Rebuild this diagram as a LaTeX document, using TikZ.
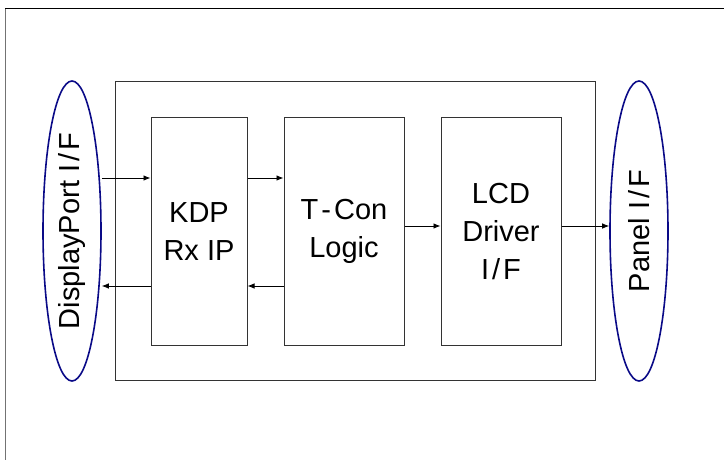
\documentclass[tikz,border=0pt]{standalone}
\usepackage{fontspec}
\setmainfont{Liberation Sans}
\usepackage{tikz}
\usetikzlibrary{positioning}
\usetikzlibrary{shapes.geometric}
\usetikzlibrary{arrows.meta}
\definecolor{portblue}{RGB}{10,10,135}
% spaced slash and dash, as in the block labels
\newcommand{\sep}[1]{\kern3pt#1\kern3pt}

\begin{document}
\begin{tikzpicture}[x=1pt,y=-1pt,  node distance=36pt,  block/.style={    draw=black!80,    line width=1pt,    rectangle,    minimum width=120pt,    minimum height=228pt,    align=center,    font=\fontsize{29}{38}\selectfont  },  port/.style={    draw=portblue,    line width=1.6pt,    ellipse,    rotate=90,    inner sep=0pt,    minimum width=300pt,    minimum height=58pt,    font=\fontsize{29}{38}\selectfont  },  arrow/.style={    -{Latex[length=7pt,width=5.5pt]},    line width=0.8pt  }]
		\useasboundingbox (0,0) rectangle (724,460);
		% Frame
		\draw[black!55, line width=1pt] (5,460) -- (5,9);
		\draw[line width=1pt] (5,9) -- (724,9);
		% Nodes
		\node[block, minimum width=480pt, minimum height=299pt] (chip) at (355,231) {};
		\node[block, minimum width=96pt] (kdp) at (199,231.5) {KDP\\Rx IP};
		\node[block, right=of kdp] (tcon) {T\sep{-}Con\\Logic};
		\node[block, right=of tcon] (lcd) {LCD\\Driver\\I\sep{/}F};
		\node[port] (dp) at (72,231) {DisplayPort I\sep{/}F};
		\node[port] (panel) at (639,231) {Panel I\sep{/}F};
		% Levels
		\coordinate (upper) at (0,178);
		\coordinate (lower) at (0,286);
		\coordinate (mid) at (0,226);
		% Arrows
		\draw[arrow] (dp.south |- upper) -- (kdp.west |- upper);
		\draw[arrow] (kdp.east |- upper) -- (tcon.west |- upper);
		\draw[arrow] (kdp.west |- lower) -- (dp.south |- lower);
		\draw[arrow] (tcon.west |- lower) -- (kdp.east |- lower);
		\draw[arrow] (tcon.east |- mid) -- (lcd.west |- mid);
		\draw[arrow] (lcd.east |- mid) -- (panel.north |- mid);
	\end{tikzpicture}
\end{document}
